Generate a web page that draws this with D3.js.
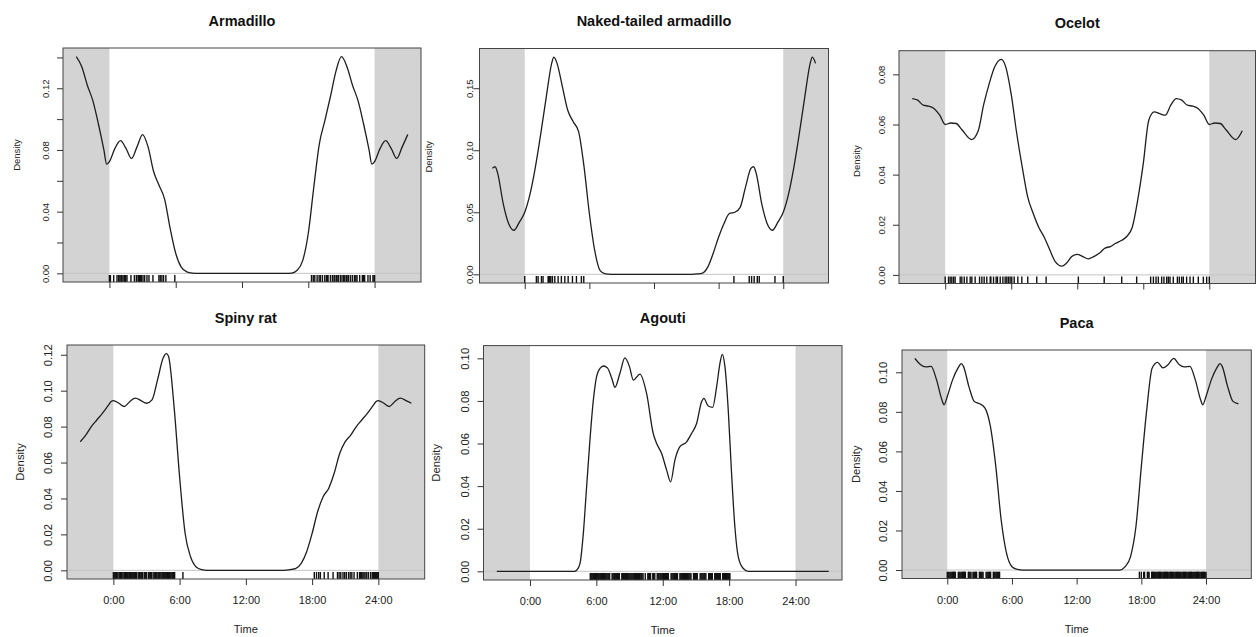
<!DOCTYPE html>
<html>
<head>
<meta charset="utf-8">
<script src="https://cdn.jsdelivr.net/npm/d3@7"></script>
<style>
  body { margin: 0; background: #fff; }
  svg { display: block; font-family: "Liberation Sans", Arial, sans-serif; }
</style>
</head>
<body>
<div id="chart"></div>
<script>
// Species titles
var species = ["Armadillo", "Naked-tailed armadillo", "Ocelot", "Spiny rat", "Agouti", "Paca"];

// Kernel density curves, [hour, density] for 0:00 - 24:00 (circular)
var armadilloDensity = [[0,0.0725],[0.5,0.081],[1,0.086],[1.5,0.081],[2,0.0745],[2.5,0.082],[3,0.090],[3.5,0.082],[4,0.066],[4.5,0.057],[5,0.048],[5.5,0.029],[6,0.013],[6.5,0.004],[7,0.001],[7.5,0.0002],[8,0],[16,0],[16.5,0.0002],[17,0.002],[17.5,0.0084],[18,0.026],[18.5,0.056],[19,0.084],[19.5,0.099],[20,0.1145],[20.5,0.131],[21,0.1405],[21.5,0.134],[22,0.122],[22.5,0.112],[23,0.097],[23.5,0.080],[23.75,0.0708],[24,0.0725]];
var nakedDensity = [[0,0.050],[0.5,0.065],[1,0.087],[1.5,0.114],[2,0.143],[2.5,0.170],[2.7,0.175],[3,0.170],[3.5,0.151],[4,0.132],[4.5,0.123],[5,0.115],[5.5,0.087],[6,0.049],[6.5,0.019],[7,0.003],[7.5,0.0003],[8,0],[15.5,0],[16,0.0003],[16.5,0.001],[17,0.006],[17.5,0.017],[18,0.030],[18.5,0.041],[19,0.049],[19.5,0.050],[20,0.054],[20.5,0.0705],[21,0.0854],[21.25,0.0867],[21.5,0.081],[22,0.057],[22.5,0.041],[23,0.0355],[23.5,0.042],[24,0.050]];
var ocelotDensity = [[0,0.060],[0.5,0.0606],[1,0.0604],[1.5,0.058],[2.4,0.054],[3,0.0575],[3.5,0.068],[4,0.0763],[4.5,0.083],[5.1,0.086],[5.5,0.083],[6,0.072],[6.5,0.0564],[7,0.043],[7.5,0.031],[8,0.0245],[8.5,0.019],[9,0.015],[9.5,0.010],[10,0.0053],[10.6,0.0035],[11,0.0046],[11.5,0.0073],[12,0.0082],[12.5,0.0073],[13,0.0064],[13.5,0.0073],[14,0.0086],[14.5,0.0106],[15,0.0113],[15.5,0.0126],[16,0.0137],[16.5,0.0153],[17,0.019],[17.5,0.030],[18,0.0444],[18.5,0.0617],[19,0.065],[19.5,0.0643],[20,0.0637],[20.5,0.0677],[21,0.0703],[21.5,0.0697],[22,0.0677],[22.5,0.0673],[23,0.0663],[23.5,0.0637],[24,0.060]];
var spinyDensity = [[0,0.0945],[0.5,0.093],[1,0.0912],[1.5,0.094],[2,0.0958],[2.5,0.0945],[3,0.093],[3.5,0.0949],[4,0.106],[4.5,0.118],[4.8,0.1206],[5,0.119],[5.5,0.091],[6,0.052],[6.5,0.0205],[7,0.0074],[7.5,0.0019],[8,0.0004],[8.5,0],[15.5,0],[16,0.0004],[16.5,0.0009],[17,0.0037],[17.5,0.0102],[18,0.0205],[18.5,0.0326],[19,0.041],[19.5,0.0456],[20,0.054],[20.5,0.065],[21,0.0716],[21.5,0.0753],[22,0.080],[22.5,0.0837],[23,0.0874],[23.5,0.0915],[23.8,0.094],[24,0.0945]];
var agoutiDensity = [[0,0],[3,0],[4,0],[4.22,0.0005],[4.52,0.0036],[4.82,0.0177],[5.12,0.0397],[5.42,0.0616],[5.72,0.080],[6.02,0.0914],[6.33,0.0953],[6.65,0.0964],[7.0,0.0955],[7.4,0.0905],[7.68,0.0864],[8.13,0.093],[8.58,0.1002],[9.0,0.096],[9.34,0.0898],[9.94,0.0926],[10.54,0.0835],[11.14,0.0647],[11.45,0.060],[11.9,0.0553],[12.35,0.0475],[12.71,0.042],[13.1,0.0522],[13.55,0.0585],[14.16,0.0608],[14.6,0.0647],[15.06,0.0694],[15.51,0.0796],[15.72,0.0812],[16.11,0.0776],[16.51,0.077],[16.87,0.0867],[17.17,0.0976],[17.38,0.1019],[17.62,0.0961],[17.92,0.0757],[18.22,0.0459],[18.52,0.0208],[18.83,0.0067],[19.28,0.0013],[19.73,0],[21,0],[24,0]];
var pacaDensity = [[0,0.0878],[0.5,0.0963],[1,0.1022],[1.3,0.1044],[1.5,0.103],[2,0.0929],[2.5,0.0853],[3,0.0841],[3.5,0.0819],[4,0.0726],[4.5,0.0524],[5,0.0253],[5.5,0.0084],[6,0.0017],[6.5,0.0003],[7,0],[16,0],[16.5,0.0017],[17,0.0068],[17.5,0.022],[18,0.0524],[18.5,0.081],[19,0.102],[19.5,0.105],[20,0.1022],[20.5,0.104],[21,0.107],[21.5,0.104],[22,0.1027],[22.5,0.103],[23,0.0963],[23.5,0.0861],[23.7,0.0836],[24,0.0878]];

// Record times (hours) shown in the rugs
var armadilloRug = [0,0.09,0.39,0.69,0.84,0.95,1.05,1.12,1.23,1.35,1.47,1.59,1.95,2.26,2.44,2.59,2.65,2.74,2.8,2.89,3.04,3.19,3.4,3.58,3.94,4.48,4.6,4.75,4.9,5.11,5.92,18.29,18.45,18.59,18.8,18.98,19.1,19.28,19.49,19.64,19.72,19.79,20.0,20.18,20.33,20.4,20.54,20.6,20.72,20.9,21.05,21.2,21.3,21.44,21.5,21.62,21.8,21.98,22.17,22.3,22.41,22.65,22.89,23.0,23.1,23.4,23.6,23.85,23.95,24];
var nakedRug = [0,1.08,1.24,1.55,1.7,2.17,2.23,2.32,2.42,2.57,2.79,3.1,3.4,3.72,4.03,4.43,4.8,5.26,5.48,19.42,20.84,21.06,21.3,21.59,21.77,23.23,24];
var ocelotRug = [0,0.3,0.45,0.6,0.76,0.9,1.36,1.51,1.73,1.97,2.27,2.42,2.72,3.12,3.33,3.54,3.78,4.09,4.15,4.39,4.63,4.75,5.0,5.24,5.45,5.6,5.75,5.9,6.05,6.27,6.6,6.96,7.5,8.32,9.17,12.1,14.45,16.04,17.4,18.67,18.92,19.16,19.37,19.67,19.88,20.13,20.28,20.43,20.73,21.1,21.28,21.49,21.64,21.94,22.25,22.55,23.0,23.46,23.76,24];
var spinyRug = [0,0.08,0.2,0.28,0.35,0.5,0.58,0.65,0.72,0.8,0.95,1.02,1.1,1.18,1.3,1.4,1.48,1.55,1.62,1.75,1.85,1.92,2.0,2.1,2.25,2.35,2.42,2.5,2.58,2.65,2.8,2.88,2.95,3.02,3.2,3.3,3.38,3.45,3.6,3.7,3.8,3.88,3.95,4.05,4.12,4.2,4.3,4.4,4.48,4.55,4.6,4.7,4.78,4.85,4.92,5.0,5.1,5.2,5.3,5.38,5.45,5.55,6.3,18.2,18.4,18.6,18.75,19.1,19.45,19.9,20.3,20.45,20.6,20.8,20.95,21.1,21.3,21.45,21.6,21.8,22.1,22.3,22.4,22.5,22.6,22.7,22.8,22.95,23.1,23.3,23.45,23.55,23.65,23.75,23.85,23.95,24];
var agoutiRug = [5.45,5.53,5.6,5.68,5.76,5.85,5.93,6.0,6.08,6.17,6.25,6.33,6.4,6.48,6.57,6.65,6.73,6.8,6.88,6.97,7.05,7.13,7.2,7.42,7.5,7.58,7.66,7.75,7.83,7.92,8.0,8.08,8.3,8.38,8.46,8.55,8.63,8.71,8.8,8.88,8.96,9.05,9.13,9.21,9.3,9.38,9.46,9.55,9.63,9.71,9.8,9.88,9.96,10.05,10.13,10.22,10.42,10.65,10.73,10.82,10.9,11.1,11.18,11.28,11.5,11.58,11.66,11.75,11.83,11.92,12.0,12.08,12.17,12.25,12.33,12.42,12.5,12.75,12.83,12.92,13.0,13.08,13.17,13.25,13.33,13.55,13.63,13.72,13.8,13.88,13.97,14.05,14.13,14.22,14.3,14.38,14.47,14.55,14.78,14.86,14.95,15.03,15.12,15.38,15.46,15.55,15.63,15.72,15.8,15.9,16.15,16.23,16.32,16.4,16.48,16.7,16.78,16.87,16.95,17.03,17.12,17.2,17.42,17.5,17.58,17.67,17.75,17.83,17.92,18.0,18.07];
var pacaRug = [0,0.08,0.16,0.25,0.33,0.42,0.5,0.58,0.66,0.75,1.02,1.1,1.18,1.27,1.35,1.43,1.52,1.6,1.68,1.95,2.03,2.12,2.2,2.38,2.46,2.55,2.63,2.72,2.98,3.06,3.15,3.23,3.32,3.6,3.68,3.77,3.85,3.93,4.02,4.27,4.35,4.43,4.52,4.6,4.68,4.77,4.85,17.82,18.0,18.22,18.3,18.56,18.64,18.72,18.96,19.03,19.12,19.2,19.29,19.36,19.44,19.53,19.6,19.68,19.77,19.84,19.92,20.01,20.08,20.16,20.25,20.32,20.41,20.48,20.56,20.65,20.72,20.8,20.89,20.96,21.04,21.13,21.2,21.28,21.37,21.44,21.52,21.61,21.68,21.76,21.85,21.92,22.0,22.09,22.16,22.24,22.33,22.4,22.48,22.57,22.64,22.72,22.81,22.88,22.96,23.05,23.12,23.2,23.29,23.36,23.44,23.53,23.6,23.68,23.77,23.84,23.92,24];

var densities = [armadilloDensity, nakedDensity, ocelotDensity, spinyDensity, agoutiDensity, pacaDensity];
var rugs = [armadilloRug, nakedRug, ocelotRug, spinyRug, agoutiRug, pacaRug];

// Axis ticks
var xTicks = [0, 6, 12, 18, 24];
var xTickLabels = ["0:00", "6:00", "12:00", "18:00", "24:00"];
var yTicks = [
  [0, 0.02, 0.04, 0.06, 0.08, 0.10, 0.12, 0.14],
  [0, 0.05, 0.10, 0.15],
  [0, 0.02, 0.04, 0.06, 0.08],
  [0, 0.02, 0.04, 0.06, 0.08, 0.10, 0.12],
  [0, 0.02, 0.04, 0.06, 0.08, 0.10],
  [0, 0.02, 0.04, 0.06, 0.08, 0.10]
];
var yTickLabels = [
  ["0.00", "", "0.04", "", "0.08", "", "0.12", ""],
  ["0.00", "0.05", "0.10", "0.15"],
  ["0.00", "0.02", "0.04", "0.06", "0.08"],
  ["0.00", "0.02", "0.04", "0.06", "0.08", "0.10", "0.12"],
  ["0.00", "0.02", "0.04", "0.06", "0.08", "0.10"],
  ["0.00", "0.02", "0.04", "0.06", "0.08", "0.10"]
];

// Panel boxes in the page
var panels = [
  {left: 63,    top: 48,    right: 421,    bottom: 282,   row: 0, lab: 13.7, ylab: 43, ylabDy: -10},
  {left: 479.5, top: 48.5,  right: 828.5,  bottom: 283,   row: 0, lab: 6.5,  ylab: 48, ylabDy: -9},
  {left: 899,   top: 50.7,  right: 1255.5, bottom: 283.5, row: 0, lab: 14,   ylab: 39, ylabDy: -6},
  {left: 67,    top: 345,   right: 424.7,  bottom: 579,   row: 1, lab: 15,   ylab: 43, ylabDy: 0},
  {left: 483.5, top: 345.6, right: 842,    bottom: 580,   row: 1, lab: 15,   ylab: 44, ylabDy: 0},
  {left: 902,   top: 350,   right: 1251.3, bottom: 578.5, row: 1, lab: 15,   ylab: 42, ylabDy: 0}
];

var svg = d3.select("#chart").append("svg")
  .attr("width", 1257)
  .attr("height", 637);

svg.append("rect").attr("width", 1257).attr("height", 637).attr("fill", "#fff");

panels.forEach(function(p, i) {
  var dens = densities[i];
  // wrap the circular density from -3h to 27h like the original plot
  var full = dens.filter(d => d[0] >= 21 && d[0] < 24).map(d => [d[0] - 24, d[1]])
    .concat(dens)
    .concat(dens.filter(d => d[0] > 0 && d[0] <= 3).map(d => [d[0] + 24, d[1]]));

  var ymax = d3.max(dens, d => d[1]);
  var x = d3.scaleLinear().domain([-4.2, 28.2]).range([p.left, p.right]);
  var y = d3.scaleLinear().domain([-0.04 * ymax, 1.04 * ymax]).range([p.bottom, p.top]);

  var g = svg.append("g");
  var rotFont = p.row === 0 ? 9.5 : 11.3;

  // shaded extension outside 0-24h
  g.append("rect").attr("x", x(-4.2)).attr("y", p.top)
    .attr("width", x(0) - x(-4.2)).attr("height", p.bottom - p.top)
    .attr("fill", "#d3d3d3");
  g.append("rect").attr("x", x(24)).attr("y", p.top)
    .attr("width", x(28.2) - x(24)).attr("height", p.bottom - p.top)
    .attr("fill", "#d3d3d3");

  // zero line
  g.append("line")
    .attr("x1", p.left).attr("x2", p.right)
    .attr("y1", y(0)).attr("y2", y(0))
    .attr("stroke", "#c4c4c4").attr("stroke-width", 1);

  // density curve
  var line = d3.line()
    .x(d => x(d[0]))
    .y(d => y(d[1]))
    .curve(d3.curveMonotoneX);
  g.append("path").datum(full)
    .attr("d", line)
    .attr("fill", "none")
    .attr("stroke", "#1e1e1e")
    .attr("stroke-width", 1.3);

  // rug
  var rugLen = 0.03 * (p.bottom - p.top);
  g.append("g").selectAll("line")
    .data(rugs[i])
    .enter().append("line")
    .attr("x1", d => x(d)).attr("x2", d => x(d))
    .attr("y1", p.bottom).attr("y2", p.bottom - rugLen)
    .attr("stroke", "#111").attr("stroke-width", 1.4);

  // box
  g.append("rect")
    .attr("x", p.left).attr("y", p.top)
    .attr("width", p.right - p.left).attr("height", p.bottom - p.top)
    .attr("fill", "none").attr("stroke", "#444").attr("stroke-width", 1);

  // x axis
  var xAxis = g.append("g")
    .attr("transform", `translate(0, ${p.bottom})`)
    .call(d3.axisBottom(x).tickValues(xTicks).tickSize(6).tickSizeOuter(0)
      .tickFormat((d, k) => p.row === 1 ? xTickLabels[k] : ""));
  xAxis.select(".domain").remove();
  xAxis.selectAll("line").attr("stroke", "#333");
  xAxis.selectAll("text")
    .attr("y", 25).attr("dy", 0)
    .attr("fill", "#222")
    .style("font-size", "11px")
    .style("font-family", "'Liberation Sans', Arial, sans-serif");

  // y axis
  var yAxis = g.append("g")
    .attr("transform", `translate(${p.left}, 0)`)
    .call(d3.axisLeft(y).tickValues(yTicks[i]).tickSize(6).tickSizeOuter(0)
      .tickFormat((d, k) => yTickLabels[i][k]));
  yAxis.select(".domain").remove();
  yAxis.selectAll("line").attr("stroke", "#333");
  yAxis.selectAll("text")
    .attr("transform", "rotate(-90)")
    .attr("x", 0).attr("y", -p.lab).attr("dy", 0)
    .attr("text-anchor", "middle")
    .attr("fill", "#222")
    .style("font-size", rotFont + "px")
    .style("font-family", "'Liberation Sans', Arial, sans-serif");

  // title
  g.append("text")
    .attr("x", (p.left + p.right) / 2)
    .attr("y", p.top - 22.5)
    .attr("text-anchor", "middle")
    .style("font-size", "14.5px")
    .style("font-weight", "bold")
    .attr("fill", "#111")
    .text(species[i]);

  // y label
  var cy = (p.top + p.bottom) / 2 + p.ylabDy;
  g.append("text")
    .attr("transform", `translate(${p.left - p.ylab}, ${cy}) rotate(-90)`)
    .attr("text-anchor", "middle")
    .style("font-size", rotFont + "px")
    .attr("fill", "#222")
    .text("Density");

  // x label on bottom row
  if (p.row === 1) {
    g.append("text")
      .attr("x", (p.left + p.right) / 2)
      .attr("y", p.bottom + 54)
      .attr("text-anchor", "middle")
      .style("font-size", "11px")
      .attr("fill", "#222")
      .text("Time");
  }
});
</script>
</body>
</html>
